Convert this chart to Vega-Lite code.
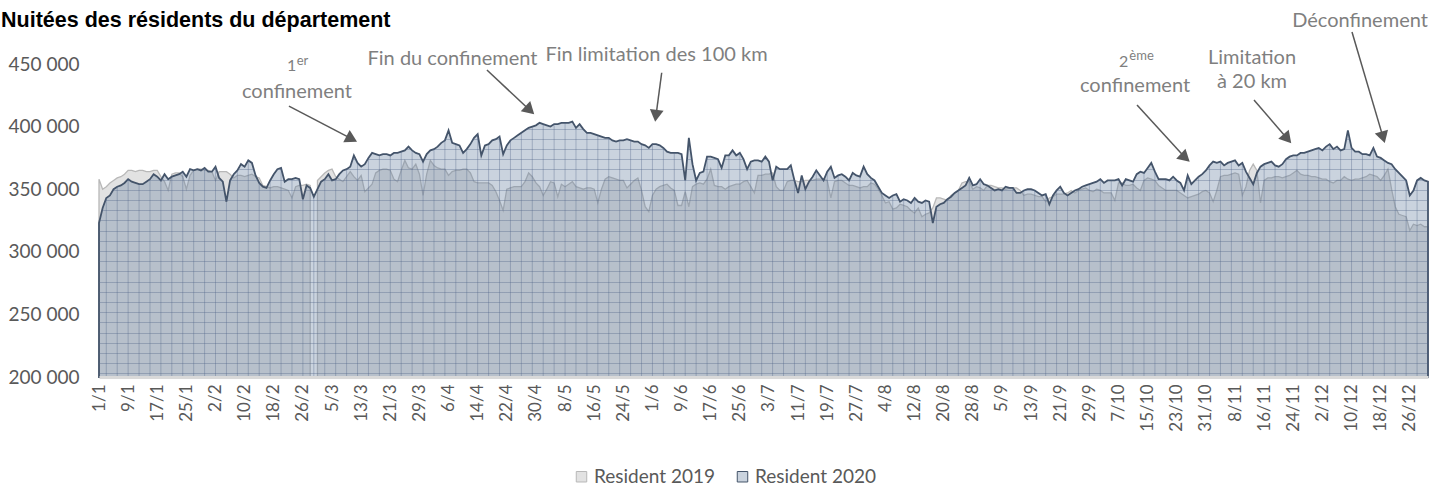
{
"$schema":"https://vega.github.io/schema/vega-lite/v6.json",
"width":1329,"height":313,
"autosize":{"type":"none"},
"padding":{"left":99,"top":64,"right":4,"bottom":111},
"background":"#ffffff",
"config":{"view":{"stroke":null},"font":"Lato"},
"title":{"text":"Nuitées des résidents du département","anchor":"start","frame":"group","font":"Liberation Sans","fontSize":21.5,"fontWeight":"bold","color":"#000000","dx":-98,"offset":-21},
"datasets":{
"days":[
{"date":"2020-01-01","y2019":358000,"y2020":323000},{"date":"2020-01-02","y2019":350000,"y2020":335000},{"date":"2020-01-03","y2019":352000,"y2020":343000},{"date":"2020-01-04","y2019":355000,"y2020":345000},{"date":"2020-01-05","y2019":357000,"y2020":350000},{"date":"2020-01-06","y2019":359000,"y2020":352000},{"date":"2020-01-07","y2019":360000,"y2020":353000},{"date":"2020-01-08","y2019":362000,"y2020":355000},{"date":"2020-01-09","y2019":365000,"y2020":358000},{"date":"2020-01-10","y2019":365000,"y2020":356000},{"date":"2020-01-11","y2019":364000,"y2020":355000},{"date":"2020-01-12","y2019":365000,"y2020":354000},{"date":"2020-01-13","y2019":365000,"y2020":354000},{"date":"2020-01-14","y2019":364000,"y2020":356000},{"date":"2020-01-15","y2019":364000,"y2020":358000},{"date":"2020-01-16","y2019":365000,"y2020":362000},{"date":"2020-01-17","y2019":365000,"y2020":360000},{"date":"2020-01-18","y2019":360000,"y2020":357000},{"date":"2020-01-19","y2019":356000,"y2020":362000},{"date":"2020-01-20","y2019":349000,"y2020":358000},{"date":"2020-01-21","y2019":362000,"y2020":360000},{"date":"2020-01-22","y2019":363000,"y2020":361000},{"date":"2020-01-23","y2019":363000,"y2020":362000},{"date":"2020-01-24","y2019":360000,"y2020":364000},{"date":"2020-01-25","y2019":350000,"y2020":360000},{"date":"2020-01-26","y2019":361000,"y2020":366000},{"date":"2020-01-27","y2019":365000,"y2020":365000},{"date":"2020-01-28","y2019":366000,"y2020":366000},{"date":"2020-01-29","y2019":366000,"y2020":365000},{"date":"2020-01-30","y2019":365000,"y2020":367000},{"date":"2020-01-31","y2019":365000,"y2020":364000},
{"date":"2020-02-01","y2019":364000,"y2020":364000},{"date":"2020-02-02","y2019":357000,"y2020":368000},{"date":"2020-02-03","y2019":364000,"y2020":359000},{"date":"2020-02-04","y2019":364000,"y2020":356000},{"date":"2020-02-05","y2019":364000,"y2020":340000},{"date":"2020-02-06","y2019":362000,"y2020":357000},{"date":"2020-02-07","y2019":359000,"y2020":362000},{"date":"2020-02-08","y2019":361000,"y2020":365000},{"date":"2020-02-09","y2019":361000,"y2020":370000},{"date":"2020-02-10","y2019":360000,"y2020":368000},{"date":"2020-02-11","y2019":361000,"y2020":373000},{"date":"2020-02-12","y2019":362000,"y2020":371000},{"date":"2020-02-13","y2019":360000,"y2020":361000},{"date":"2020-02-14","y2019":359000,"y2020":355000},{"date":"2020-02-15","y2019":353000,"y2020":352000},{"date":"2020-02-16","y2019":352000,"y2020":351000},{"date":"2020-02-17","y2019":351000,"y2020":357000},{"date":"2020-02-18","y2019":352000,"y2020":362000},{"date":"2020-02-19","y2019":352000,"y2020":366000},{"date":"2020-02-20","y2019":351000,"y2020":367000},{"date":"2020-02-21","y2019":350000,"y2020":356000},{"date":"2020-02-22","y2019":349000,"y2020":358000},{"date":"2020-02-23","y2019":343000,"y2020":358000},{"date":"2020-02-24","y2019":352000,"y2020":359000},{"date":"2020-02-25","y2019":353000,"y2020":358000},{"date":"2020-02-26","y2019":353000,"y2020":342000},{"date":"2020-02-27","y2019":354000,"y2020":353000},{"date":"2020-02-28","y2019":353000,"y2020":351000},{"date":"2020-02-29","y2019":null,"y2020":344000},
{"date":"2020-03-01","y2019":357000,"y2020":350000},{"date":"2020-03-02","y2019":360000,"y2020":356000},{"date":"2020-03-03","y2019":363000,"y2020":358000},{"date":"2020-03-04","y2019":365000,"y2020":362000},{"date":"2020-03-05","y2019":366000,"y2020":357000},{"date":"2020-03-06","y2019":360000,"y2020":358000},{"date":"2020-03-07","y2019":358000,"y2020":362000},{"date":"2020-03-08","y2019":356000,"y2020":365000},{"date":"2020-03-09","y2019":360000,"y2020":366000},{"date":"2020-03-10","y2019":364000,"y2020":368000},{"date":"2020-03-11","y2019":360000,"y2020":377000},{"date":"2020-03-12","y2019":357000,"y2020":371000},{"date":"2020-03-13","y2019":361000,"y2020":368000},{"date":"2020-03-14","y2019":348000,"y2020":370000},{"date":"2020-03-15","y2019":351000,"y2020":375000},{"date":"2020-03-16","y2019":354000,"y2020":379000},{"date":"2020-03-17","y2019":363000,"y2020":378000},{"date":"2020-03-18","y2019":365000,"y2020":377000},{"date":"2020-03-19","y2019":366000,"y2020":378000},{"date":"2020-03-20","y2019":366000,"y2020":378000},{"date":"2020-03-21","y2019":365000,"y2020":377000},{"date":"2020-03-22","y2019":358000,"y2020":379000},{"date":"2020-03-23","y2019":356000,"y2020":379000},{"date":"2020-03-24","y2019":365000,"y2020":380000},{"date":"2020-03-25","y2019":373000,"y2020":381000},{"date":"2020-03-26","y2019":367000,"y2020":384000},{"date":"2020-03-27","y2019":366000,"y2020":381000},{"date":"2020-03-28","y2019":370000,"y2020":379000},{"date":"2020-03-29","y2019":362000,"y2020":378000},{"date":"2020-03-30","y2019":345000,"y2020":372000},{"date":"2020-03-31","y2019":362000,"y2020":378000},
{"date":"2020-04-01","y2019":373000,"y2020":381000},{"date":"2020-04-02","y2019":369000,"y2020":382000},{"date":"2020-04-03","y2019":367000,"y2020":384000},{"date":"2020-04-04","y2019":366000,"y2020":387000},{"date":"2020-04-05","y2019":366000,"y2020":389000},{"date":"2020-04-06","y2019":361000,"y2020":397000},{"date":"2020-04-07","y2019":364000,"y2020":387000},{"date":"2020-04-08","y2019":365000,"y2020":386000},{"date":"2020-04-09","y2019":365000,"y2020":385000},{"date":"2020-04-10","y2019":366000,"y2020":379000},{"date":"2020-04-11","y2019":366000,"y2020":382000},{"date":"2020-04-12","y2019":363000,"y2020":386000},{"date":"2020-04-13","y2019":356000,"y2020":391000},{"date":"2020-04-14","y2019":355000,"y2020":394000},{"date":"2020-04-15","y2019":355000,"y2020":377000},{"date":"2020-04-16","y2019":355000,"y2020":385000},{"date":"2020-04-17","y2019":355000,"y2020":386000},{"date":"2020-04-18","y2019":353000,"y2020":389000},{"date":"2020-04-19","y2019":348000,"y2020":390000},{"date":"2020-04-20","y2019":341000,"y2020":392000},{"date":"2020-04-21","y2019":333000,"y2020":378000},{"date":"2020-04-22","y2019":350000,"y2020":385000},{"date":"2020-04-23","y2019":351000,"y2020":389000},{"date":"2020-04-24","y2019":352000,"y2020":391000},{"date":"2020-04-25","y2019":352000,"y2020":393000},{"date":"2020-04-26","y2019":352000,"y2020":395000},{"date":"2020-04-27","y2019":356000,"y2020":397000},{"date":"2020-04-28","y2019":363000,"y2020":399000},{"date":"2020-04-29","y2019":360000,"y2020":400000},{"date":"2020-04-30","y2019":355000,"y2020":401000},
{"date":"2020-05-01","y2019":352000,"y2020":403000},{"date":"2020-05-02","y2019":345000,"y2020":402000},{"date":"2020-05-03","y2019":350000,"y2020":401000},{"date":"2020-05-04","y2019":356000,"y2020":400000},{"date":"2020-05-05","y2019":355000,"y2020":402000},{"date":"2020-05-06","y2019":344000,"y2020":402000},{"date":"2020-05-07","y2019":354000,"y2020":403000},{"date":"2020-05-08","y2019":352000,"y2020":403000},{"date":"2020-05-09","y2019":354000,"y2020":403000},{"date":"2020-05-10","y2019":356000,"y2020":404000},{"date":"2020-05-11","y2019":352000,"y2020":399000},{"date":"2020-05-12","y2019":351000,"y2020":402000},{"date":"2020-05-13","y2019":350000,"y2020":398000},{"date":"2020-05-14","y2019":351000,"y2020":395000},{"date":"2020-05-15","y2019":351000,"y2020":395000},{"date":"2020-05-16","y2019":350000,"y2020":394000},{"date":"2020-05-17","y2019":339000,"y2020":393000},{"date":"2020-05-18","y2019":350000,"y2020":392000},{"date":"2020-05-19","y2019":358000,"y2020":391000},{"date":"2020-05-20","y2019":360000,"y2020":391000},{"date":"2020-05-21","y2019":359000,"y2020":389000},{"date":"2020-05-22","y2019":358000,"y2020":388000},{"date":"2020-05-23","y2019":357000,"y2020":389000},{"date":"2020-05-24","y2019":357000,"y2020":389000},{"date":"2020-05-25","y2019":351000,"y2020":390000},{"date":"2020-05-26","y2019":354000,"y2020":389000},{"date":"2020-05-27","y2019":357000,"y2020":388000},{"date":"2020-05-28","y2019":359000,"y2020":388000},{"date":"2020-05-29","y2019":349000,"y2020":386000},{"date":"2020-05-30","y2019":336000,"y2020":385000},{"date":"2020-05-31","y2019":332000,"y2020":383000},
{"date":"2020-06-01","y2019":345000,"y2020":386000},{"date":"2020-06-02","y2019":350000,"y2020":386000},{"date":"2020-06-03","y2019":352000,"y2020":385000},{"date":"2020-06-04","y2019":353000,"y2020":383000},{"date":"2020-06-05","y2019":354000,"y2020":380000},{"date":"2020-06-06","y2019":351000,"y2020":379000},{"date":"2020-06-07","y2019":349000,"y2020":379000},{"date":"2020-06-08","y2019":337000,"y2020":379000},{"date":"2020-06-09","y2019":337000,"y2020":378000},{"date":"2020-06-10","y2019":348000,"y2020":357000},{"date":"2020-06-11","y2019":336000,"y2020":391000},{"date":"2020-06-12","y2019":352000,"y2020":370000},{"date":"2020-06-13","y2019":354000,"y2020":357000},{"date":"2020-06-14","y2019":355000,"y2020":363000},{"date":"2020-06-15","y2019":354000,"y2020":364000},{"date":"2020-06-16","y2019":358000,"y2020":376000},{"date":"2020-06-17","y2019":366000,"y2020":376000},{"date":"2020-06-18","y2019":353000,"y2020":375000},{"date":"2020-06-19","y2019":352000,"y2020":374000},{"date":"2020-06-20","y2019":352000,"y2020":367000},{"date":"2020-06-21","y2019":350000,"y2020":377000},{"date":"2020-06-22","y2019":352000,"y2020":377000},{"date":"2020-06-23","y2019":353000,"y2020":381000},{"date":"2020-06-24","y2019":354000,"y2020":377000},{"date":"2020-06-25","y2019":354000,"y2020":379000},{"date":"2020-06-26","y2019":356000,"y2020":374000},{"date":"2020-06-27","y2019":357000,"y2020":366000},{"date":"2020-06-28","y2019":352000,"y2020":372000},{"date":"2020-06-29","y2019":347000,"y2020":373000},{"date":"2020-06-30","y2019":361000,"y2020":373000},
{"date":"2020-07-01","y2019":361000,"y2020":372000},{"date":"2020-07-02","y2019":362000,"y2020":376000},{"date":"2020-07-03","y2019":362000,"y2020":372000},{"date":"2020-07-04","y2019":363000,"y2020":357000},{"date":"2020-07-05","y2019":352000,"y2020":368000},{"date":"2020-07-06","y2019":349000,"y2020":366000},{"date":"2020-07-07","y2019":349000,"y2020":366000},{"date":"2020-07-08","y2019":356000,"y2020":366000},{"date":"2020-07-09","y2019":357000,"y2020":369000},{"date":"2020-07-10","y2019":357000,"y2020":357000},{"date":"2020-07-11","y2019":356000,"y2020":347000},{"date":"2020-07-12","y2019":356000,"y2020":361000},{"date":"2020-07-13","y2019":357000,"y2020":350000},{"date":"2020-07-14","y2019":357000,"y2020":356000},{"date":"2020-07-15","y2019":357000,"y2020":360000},{"date":"2020-07-16","y2019":358000,"y2020":365000},{"date":"2020-07-17","y2019":358000,"y2020":361000},{"date":"2020-07-18","y2019":358000,"y2020":357000},{"date":"2020-07-19","y2019":357000,"y2020":364000},{"date":"2020-07-20","y2019":343000,"y2020":368000},{"date":"2020-07-21","y2019":356000,"y2020":359000},{"date":"2020-07-22","y2019":357000,"y2020":361000},{"date":"2020-07-23","y2019":357000,"y2020":362000},{"date":"2020-07-24","y2019":355000,"y2020":360000},{"date":"2020-07-25","y2019":353000,"y2020":357000},{"date":"2020-07-26","y2019":353000,"y2020":363000},{"date":"2020-07-27","y2019":352000,"y2020":361000},{"date":"2020-07-28","y2019":351000,"y2020":360000},{"date":"2020-07-29","y2019":352000,"y2020":368000},{"date":"2020-07-30","y2019":352000,"y2020":362000},{"date":"2020-07-31","y2019":355000,"y2020":359000},
{"date":"2020-08-01","y2019":354000,"y2020":357000},{"date":"2020-08-02","y2019":350000,"y2020":352000},{"date":"2020-08-03","y2019":345000,"y2020":347000},{"date":"2020-08-04","y2019":339000,"y2020":345000},{"date":"2020-08-05","y2019":340000,"y2020":343000},{"date":"2020-08-06","y2019":334000,"y2020":345000},{"date":"2020-08-07","y2019":335000,"y2020":346000},{"date":"2020-08-08","y2019":338000,"y2020":340000},{"date":"2020-08-09","y2019":337000,"y2020":342000},{"date":"2020-08-10","y2019":336000,"y2020":341000},{"date":"2020-08-11","y2019":333000,"y2020":339000},{"date":"2020-08-12","y2019":331000,"y2020":343000},{"date":"2020-08-13","y2019":335000,"y2020":340000},{"date":"2020-08-14","y2019":328000,"y2020":339000},{"date":"2020-08-15","y2019":330000,"y2020":341000},{"date":"2020-08-16","y2019":331000,"y2020":340000},{"date":"2020-08-17","y2019":335000,"y2020":323000},{"date":"2020-08-18","y2019":343000,"y2020":336000},{"date":"2020-08-19","y2019":343000,"y2020":338000},{"date":"2020-08-20","y2019":342000,"y2020":339000},{"date":"2020-08-21","y2019":341000,"y2020":342000},{"date":"2020-08-22","y2019":345000,"y2020":344000},{"date":"2020-08-23","y2019":347000,"y2020":347000},{"date":"2020-08-24","y2019":349000,"y2020":349000},{"date":"2020-08-25","y2019":355000,"y2020":351000},{"date":"2020-08-26","y2019":356000,"y2020":353000},{"date":"2020-08-27","y2019":356000,"y2020":359000},{"date":"2020-08-28","y2019":350000,"y2020":353000},{"date":"2020-08-29","y2019":352000,"y2020":354000},{"date":"2020-08-30","y2019":351000,"y2020":358000},{"date":"2020-08-31","y2019":349000,"y2020":354000},
{"date":"2020-09-01","y2019":353000,"y2020":353000},{"date":"2020-09-02","y2019":353000,"y2020":351000},{"date":"2020-09-03","y2019":352000,"y2020":349000},{"date":"2020-09-04","y2019":351000,"y2020":350000},{"date":"2020-09-05","y2019":351000,"y2020":349000},{"date":"2020-09-06","y2019":350000,"y2020":352000},{"date":"2020-09-07","y2019":351000,"y2020":351000},{"date":"2020-09-08","y2019":351000,"y2020":351000},{"date":"2020-09-09","y2019":351000,"y2020":347000},{"date":"2020-09-10","y2019":349000,"y2020":347000},{"date":"2020-09-11","y2019":345000,"y2020":349000},{"date":"2020-09-12","y2019":346000,"y2020":350000},{"date":"2020-09-13","y2019":346000,"y2020":350000},{"date":"2020-09-14","y2019":345000,"y2020":349000},{"date":"2020-09-15","y2019":344000,"y2020":347000},{"date":"2020-09-16","y2019":344000,"y2020":345000},{"date":"2020-09-17","y2019":340000,"y2020":346000},{"date":"2020-09-18","y2019":343000,"y2020":338000},{"date":"2020-09-19","y2019":344000,"y2020":345000},{"date":"2020-09-20","y2019":346000,"y2020":349000},{"date":"2020-09-21","y2019":346000,"y2020":352000},{"date":"2020-09-22","y2019":346000,"y2020":347000},{"date":"2020-09-23","y2019":347000,"y2020":345000},{"date":"2020-09-24","y2019":349000,"y2020":347000},{"date":"2020-09-25","y2019":347000,"y2020":349000},{"date":"2020-09-26","y2019":349000,"y2020":350000},{"date":"2020-09-27","y2019":350000,"y2020":352000},{"date":"2020-09-28","y2019":351000,"y2020":353000},{"date":"2020-09-29","y2019":349000,"y2020":354000},{"date":"2020-09-30","y2019":348000,"y2020":355000},
{"date":"2020-10-01","y2019":350000,"y2020":356000},{"date":"2020-10-02","y2019":349000,"y2020":358000},{"date":"2020-10-03","y2019":347000,"y2020":355000},{"date":"2020-10-04","y2019":347000,"y2020":357000},{"date":"2020-10-05","y2019":347000,"y2020":357000},{"date":"2020-10-06","y2019":341000,"y2020":357000},{"date":"2020-10-07","y2019":355000,"y2020":358000},{"date":"2020-10-08","y2019":355000,"y2020":353000},{"date":"2020-10-09","y2019":353000,"y2020":358000},{"date":"2020-10-10","y2019":353000,"y2020":357000},{"date":"2020-10-11","y2019":354000,"y2020":356000},{"date":"2020-10-12","y2019":351000,"y2020":362000},{"date":"2020-10-13","y2019":349000,"y2020":364000},{"date":"2020-10-14","y2019":357000,"y2020":363000},{"date":"2020-10-15","y2019":359000,"y2020":367000},{"date":"2020-10-16","y2019":358000,"y2020":371000},{"date":"2020-10-17","y2019":357000,"y2020":364000},{"date":"2020-10-18","y2019":353000,"y2020":358000},{"date":"2020-10-19","y2019":351000,"y2020":358000},{"date":"2020-10-20","y2019":349000,"y2020":358000},{"date":"2020-10-21","y2019":349000,"y2020":357000},{"date":"2020-10-22","y2019":349000,"y2020":360000},{"date":"2020-10-23","y2019":349000,"y2020":357000},{"date":"2020-10-24","y2019":347000,"y2020":355000},{"date":"2020-10-25","y2019":345000,"y2020":349000},{"date":"2020-10-26","y2019":343000,"y2020":361000},{"date":"2020-10-27","y2019":344000,"y2020":354000},{"date":"2020-10-28","y2019":345000,"y2020":357000},{"date":"2020-10-29","y2019":346000,"y2020":360000},{"date":"2020-10-30","y2019":348000,"y2020":362000},{"date":"2020-10-31","y2019":349000,"y2020":365000},
{"date":"2020-11-01","y2019":347000,"y2020":369000},{"date":"2020-11-02","y2019":340000,"y2020":372000},{"date":"2020-11-03","y2019":349000,"y2020":371000},{"date":"2020-11-04","y2019":360000,"y2020":372000},{"date":"2020-11-05","y2019":361000,"y2020":369000},{"date":"2020-11-06","y2019":361000,"y2020":371000},{"date":"2020-11-07","y2019":362000,"y2020":372000},{"date":"2020-11-08","y2019":363000,"y2020":373000},{"date":"2020-11-09","y2019":362000,"y2020":369000},{"date":"2020-11-10","y2019":345000,"y2020":371000},{"date":"2020-11-11","y2019":352000,"y2020":364000},{"date":"2020-11-12","y2019":365000,"y2020":359000},{"date":"2020-11-13","y2019":370000,"y2020":354000},{"date":"2020-11-14","y2019":365000,"y2020":363000},{"date":"2020-11-15","y2019":339000,"y2020":368000},{"date":"2020-11-16","y2019":357000,"y2020":370000},{"date":"2020-11-17","y2019":359000,"y2020":371000},{"date":"2020-11-18","y2019":359000,"y2020":372000},{"date":"2020-11-19","y2019":360000,"y2020":369000},{"date":"2020-11-20","y2019":360000,"y2020":368000},{"date":"2020-11-21","y2019":359000,"y2020":370000},{"date":"2020-11-22","y2019":360000,"y2020":374000},{"date":"2020-11-23","y2019":361000,"y2020":376000},{"date":"2020-11-24","y2019":363000,"y2020":377000},{"date":"2020-11-25","y2019":365000,"y2020":377000},{"date":"2020-11-26","y2019":362000,"y2020":379000},{"date":"2020-11-27","y2019":361000,"y2020":379000},{"date":"2020-11-28","y2019":361000,"y2020":380000},{"date":"2020-11-29","y2019":360000,"y2020":381000},{"date":"2020-11-30","y2019":360000,"y2020":382000},
{"date":"2020-12-01","y2019":359000,"y2020":383000},{"date":"2020-12-02","y2019":358000,"y2020":381000},{"date":"2020-12-03","y2019":358000,"y2020":384000},{"date":"2020-12-04","y2019":356000,"y2020":386000},{"date":"2020-12-05","y2019":355000,"y2020":382000},{"date":"2020-12-06","y2019":357000,"y2020":384000},{"date":"2020-12-07","y2019":357000,"y2020":381000},{"date":"2020-12-08","y2019":360000,"y2020":382000},{"date":"2020-12-09","y2019":358000,"y2020":397000},{"date":"2020-12-10","y2019":357000,"y2020":383000},{"date":"2020-12-11","y2019":358000,"y2020":380000},{"date":"2020-12-12","y2019":358000,"y2020":380000},{"date":"2020-12-13","y2019":359000,"y2020":378000},{"date":"2020-12-14","y2019":360000,"y2020":378000},{"date":"2020-12-15","y2019":362000,"y2020":377000},{"date":"2020-12-16","y2019":361000,"y2020":383000},{"date":"2020-12-17","y2019":360000,"y2020":376000},{"date":"2020-12-18","y2019":357000,"y2020":375000},{"date":"2020-12-19","y2019":361000,"y2020":373000},{"date":"2020-12-20","y2019":366000,"y2020":371000},{"date":"2020-12-21","y2019":350000,"y2020":370000},{"date":"2020-12-22","y2019":336000,"y2020":366000},{"date":"2020-12-23","y2019":330000,"y2020":363000},{"date":"2020-12-24","y2019":329000,"y2020":360000},{"date":"2020-12-25","y2019":328000,"y2020":357000},{"date":"2020-12-26","y2019":317000,"y2020":345000},{"date":"2020-12-27","y2019":322000,"y2020":349000},{"date":"2020-12-28","y2019":321000,"y2020":357000},{"date":"2020-12-29","y2019":322000,"y2020":359000},{"date":"2020-12-30","y2019":320000,"y2020":357000},{"date":"2020-12-31","y2019":320000,"y2020":356000}
],
"arrows":[
{"id":"a1","date":"2020-02-22T04:00:00Z","value":416400,"date2":"2020-03-10T10:00:00Z","value2":390200},
{"id":"a2","date":"2020-04-16T13:00:00Z","value":445200,"date2":"2020-04-28T08:00:00Z","value2":413100},
{"id":"a3","date":"2020-06-03T13:00:00Z","value":443000,"date2":"2020-06-01T23:00:00Z","value2":408600},
{"id":"a4","date":"2020-10-12T02:00:00Z","value":417200,"date2":"2020-10-25T08:00:00Z","value2":375100},
{"id":"a5","date":"2020-11-13T05:00:00Z","value":421200,"date2":"2020-11-22T09:00:00Z","value2":390300},
{"id":"a6","date":"2020-12-10T03:00:00Z","value":475600,"date2":"2020-12-18T16:00:00Z","value2":391400}
],
"notes":[
{"text":"confinement","date":"2020-02-24T09:00:00Z","value":423100},
{"text":"Fin du confinement","date":"2020-04-07T02:00:00Z","value":449200},
{"text":"Fin limitation des 100 km","date":"2020-06-02T03:00:00Z","value":452600},
{"text":"confinement","date":"2020-10-11T13:00:00Z","value":427900},
{"text":"Limitation","date":"2020-11-12T16:00:00Z","value":450000},
{"text":"à 20 km","date":"2020-11-12T16:00:00Z","value":430600},
{"text":"Déconfinement","date":"2020-12-12T08:00:00Z","value":479800}
],
"ordinals":[
{"text":"1","date":"2020-02-22T22:00:00Z","value":444600},
{"text":"2","date":"2020-10-08T10:00:00Z","value":447800}
],
"sups":[
{"text":"er","date":"2020-02-25T21:00:00Z","value":449600},
{"text":"ème","date":"2020-10-13T08:00:00Z","value":453200}
]
},
"encoding":{
"x":{"field":"date","type":"temporal","scale":{"type":"utc","domain":[1577836800000,1609372800000],"nice":false},
"axis":{"values":[1577836800000,1578528000000,1579219200000,1579910400000,1580601600000,1581292800000,1581984000000,1582675200000,1583366400000,1584057600000,1584748800000,1585440000000,1586131200000,1586822400000,1587513600000,1588204800000,1588896000000,1589587200000,1590278400000,1590969600000,1591660800000,1592352000000,1593043200000,1593734400000,1594425600000,1595116800000,1595808000000,1596499200000,1597190400000,1597881600000,1598572800000,1599264000000,1599955200000,1600646400000,1601337600000,1602028800000,1602720000000,1603411200000,1604102400000,1604793600000,1605484800000,1606176000000,1606867200000,1607558400000,1608249600000,1608940800000],
"format":"%-d/%-m","labelAngle":-90,"labelOverlap":false,"labelFlush":false,"labelFont":"Lato","labelFontSize":17,"labelColor":"#595959","labelPadding":7,"ticks":false,"grid":false,"domainColor":"#d9d9d9","domainWidth":2.8,"zindex":1,"title":null}},
"y":{"field":"value","type":"quantitative","scale":{"domain":[200000,450000],"nice":false,"zero":false},
"axis":{"values":[200000,250000,300000,350000,400000,450000],"labelExpr":"replace(format(datum.value, ',d'), ',', ' ')","labelFont":"Lato","labelFontSize":19,"labelColor":"#595959","labelPadding":20,"ticks":false,"grid":false,"domain":false,"title":null}}
},
"layer":[
{"data":{"name":"days"},
"transform":[{"fold":["y2019","y2020"],"as":["series","value"]},{"filter":"datum.series == 'y2019'"}],
"mark":{"type":"area","strokeWidth":1.3,"invalid":"break-paths-filter-domains"},
"encoding":{"y2":{"datum":200000},
"fill":{"field":"series","type":"nominal","scale":{"domain":["y2019","y2020"],"range":["#e2e2e2","rgba(109,132,164,0.36)"]},
"legend":{"orient":"none","legendX":473,"legendY":403,"direction":"horizontal","title":null,"padding":0,"symbolType":"square","symbolSize":110,"symbolStrokeWidth":1,"labelFont":"Lato","labelFontSize":19,"labelColor":"#595959","labelOffset":3,"columnPadding":17,"labelExpr":"datum.label == 'y2019' ? 'Resident 2019' : 'Resident 2020'"}},
"stroke":{"field":"series","type":"nominal","scale":{"domain":["y2019","y2020"],"range":["#b8b8b8","#44546a"]}}}},
{"data":{"name":"days"},
"transform":[{"fold":["y2019","y2020"],"as":["series","value"]},{"filter":"datum.series == 'y2020'"}],
"mark":{"type":"area","strokeWidth":1.8},
"encoding":{"y2":{"datum":200000},
"fill":{"field":"series","type":"nominal"},
"stroke":{"field":"series","type":"nominal"}}},
{"data":{"name":"days"},
"transform":[{"fold":["y2019","y2020"],"as":["series","value"]},{"filter":"datum.series == 'y2020'"}],
"mark":{"type":"area","stroke":null,"fill":{"gradient":"linear","x1":0,"y1":0,"x2":0,"y2":1,"stops":[
{"offset":0,"color":"rgba(80,100,135,0)"},
{"offset":0.02900,"color":"rgba(80,100,135,0)"},{"offset":0.02900,"color":"rgba(80,100,135,0.36)"},{"offset":0.03292,"color":"rgba(80,100,135,0.36)"},{"offset":0.03292,"color":"rgba(80,100,135,0)"},
{"offset":0.06816,"color":"rgba(80,100,135,0)"},{"offset":0.06816,"color":"rgba(80,100,135,0.36)"},{"offset":0.07207,"color":"rgba(80,100,135,0.36)"},{"offset":0.07207,"color":"rgba(80,100,135,0)"},
{"offset":0.10731,"color":"rgba(80,100,135,0)"},{"offset":0.10731,"color":"rgba(80,100,135,0.36)"},{"offset":0.11122,"color":"rgba(80,100,135,0.36)"},{"offset":0.11122,"color":"rgba(80,100,135,0)"},
{"offset":0.14646,"color":"rgba(80,100,135,0)"},{"offset":0.14646,"color":"rgba(80,100,135,0.36)"},{"offset":0.15038,"color":"rgba(80,100,135,0.36)"},{"offset":0.15038,"color":"rgba(80,100,135,0)"},
{"offset":0.18562,"color":"rgba(80,100,135,0)"},{"offset":0.18562,"color":"rgba(80,100,135,0.36)"},{"offset":0.18953,"color":"rgba(80,100,135,0.36)"},{"offset":0.18953,"color":"rgba(80,100,135,0)"},
{"offset":0.22869,"color":"rgba(80,100,135,0)"},{"offset":0.22869,"color":"rgba(80,100,135,0.36)"},{"offset":0.23260,"color":"rgba(80,100,135,0.36)"},{"offset":0.23260,"color":"rgba(80,100,135,0)"},
{"offset":0.26784,"color":"rgba(80,100,135,0)"},{"offset":0.26784,"color":"rgba(80,100,135,0.36)"},{"offset":0.27175,"color":"rgba(80,100,135,0.36)"},{"offset":0.27175,"color":"rgba(80,100,135,0)"},
{"offset":0.30699,"color":"rgba(80,100,135,0)"},{"offset":0.30699,"color":"rgba(80,100,135,0.36)"},{"offset":0.31091,"color":"rgba(80,100,135,0.36)"},{"offset":0.31091,"color":"rgba(80,100,135,0)"},
{"offset":0.34615,"color":"rgba(80,100,135,0)"},{"offset":0.34615,"color":"rgba(80,100,135,0.36)"},{"offset":0.35006,"color":"rgba(80,100,135,0.36)"},{"offset":0.35006,"color":"rgba(80,100,135,0)"},
{"offset":0.38530,"color":"rgba(80,100,135,0)"},{"offset":0.38530,"color":"rgba(80,100,135,0.36)"},{"offset":0.38921,"color":"rgba(80,100,135,0.36)"},{"offset":0.38921,"color":"rgba(80,100,135,0)"},
{"offset":0.42837,"color":"rgba(80,100,135,0)"},{"offset":0.42837,"color":"rgba(80,100,135,0.36)"},{"offset":0.43228,"color":"rgba(80,100,135,0.36)"},{"offset":0.43228,"color":"rgba(80,100,135,0)"},
{"offset":0.46752,"color":"rgba(80,100,135,0)"},{"offset":0.46752,"color":"rgba(80,100,135,0.36)"},{"offset":0.47144,"color":"rgba(80,100,135,0.36)"},{"offset":0.47144,"color":"rgba(80,100,135,0)"},
{"offset":0.50667,"color":"rgba(80,100,135,0)"},{"offset":0.50667,"color":"rgba(80,100,135,0.36)"},{"offset":0.51059,"color":"rgba(80,100,135,0.36)"},{"offset":0.51059,"color":"rgba(80,100,135,0)"},
{"offset":0.54582,"color":"rgba(80,100,135,0)"},{"offset":0.54582,"color":"rgba(80,100,135,0.36)"},{"offset":0.54974,"color":"rgba(80,100,135,0.36)"},{"offset":0.54974,"color":"rgba(80,100,135,0)"},
{"offset":0.58498,"color":"rgba(80,100,135,0)"},{"offset":0.58498,"color":"rgba(80,100,135,0.36)"},{"offset":0.58889,"color":"rgba(80,100,135,0.36)"},{"offset":0.58889,"color":"rgba(80,100,135,0)"},
{"offset":0.62805,"color":"rgba(80,100,135,0)"},{"offset":0.62805,"color":"rgba(80,100,135,0.36)"},{"offset":0.63196,"color":"rgba(80,100,135,0.36)"},{"offset":0.63196,"color":"rgba(80,100,135,0)"},
{"offset":0.66720,"color":"rgba(80,100,135,0)"},{"offset":0.66720,"color":"rgba(80,100,135,0.36)"},{"offset":0.67111,"color":"rgba(80,100,135,0.36)"},{"offset":0.67111,"color":"rgba(80,100,135,0)"},
{"offset":0.70635,"color":"rgba(80,100,135,0)"},{"offset":0.70635,"color":"rgba(80,100,135,0.36)"},{"offset":0.71027,"color":"rgba(80,100,135,0.36)"},{"offset":0.71027,"color":"rgba(80,100,135,0)"},
{"offset":0.74551,"color":"rgba(80,100,135,0)"},{"offset":0.74551,"color":"rgba(80,100,135,0.36)"},{"offset":0.74942,"color":"rgba(80,100,135,0.36)"},{"offset":0.74942,"color":"rgba(80,100,135,0)"},
{"offset":0.78466,"color":"rgba(80,100,135,0)"},{"offset":0.78466,"color":"rgba(80,100,135,0.36)"},{"offset":0.78857,"color":"rgba(80,100,135,0.36)"},{"offset":0.78857,"color":"rgba(80,100,135,0)"},
{"offset":0.82773,"color":"rgba(80,100,135,0)"},{"offset":0.82773,"color":"rgba(80,100,135,0.36)"},{"offset":0.83164,"color":"rgba(80,100,135,0.36)"},{"offset":0.83164,"color":"rgba(80,100,135,0)"},
{"offset":0.86688,"color":"rgba(80,100,135,0)"},{"offset":0.86688,"color":"rgba(80,100,135,0.36)"},{"offset":0.87080,"color":"rgba(80,100,135,0.36)"},{"offset":0.87080,"color":"rgba(80,100,135,0)"},
{"offset":0.90604,"color":"rgba(80,100,135,0)"},{"offset":0.90604,"color":"rgba(80,100,135,0.36)"},{"offset":0.90995,"color":"rgba(80,100,135,0.36)"},{"offset":0.90995,"color":"rgba(80,100,135,0)"},
{"offset":0.94519,"color":"rgba(80,100,135,0)"},{"offset":0.94519,"color":"rgba(80,100,135,0.36)"},{"offset":0.94910,"color":"rgba(80,100,135,0.36)"},{"offset":0.94910,"color":"rgba(80,100,135,0)"},
{"offset":0.98434,"color":"rgba(80,100,135,0)"},{"offset":0.98434,"color":"rgba(80,100,135,0.36)"},{"offset":0.98826,"color":"rgba(80,100,135,0.36)"},{"offset":0.98826,"color":"rgba(80,100,135,0)"},
{"offset":1,"color":"rgba(80,100,135,0)"}]}},
"encoding":{"y2":{"datum":200000}}},
{"data":{"name":"days"},
"transform":[{"fold":["y2019","y2020"],"as":["series","value"]},{"filter":"datum.series == 'y2020' && utcdayofyear(toDate(datum.date)) % 3 == 0"}],
"mark":{"type":"rule","color":"rgba(80,100,135,0.36)","strokeWidth":1},
"encoding":{"y2":{"datum":200000}}},
{"data":{"name":"arrows"},
"mark":{"type":"rule","color":"#595959","strokeWidth":1.5},
"encoding":{"x2":{"field":"date2"},"y2":{"field":"value2"}}},
{"data":{"name":"arrows"},"transform":[{"filter":"datum.id == 'a1'"}],
"mark":{"type":"point","shape":"triangle-up","filled":true,"color":"#595959","opacity":1,"size":190,"angle":117.6},
"encoding":{"x":{"field":"date2","type":"temporal"},"y":{"field":"value2","type":"quantitative"}}},
{"data":{"name":"arrows"},"transform":[{"filter":"datum.id == 'a2'"}],
"mark":{"type":"point","shape":"triangle-up","filled":true,"color":"#595959","opacity":1,"size":190,"angle":133.2},
"encoding":{"x":{"field":"date2","type":"temporal"},"y":{"field":"value2","type":"quantitative"}}},
{"data":{"name":"arrows"},"transform":[{"filter":"datum.id == 'a3'"}],
"mark":{"type":"point","shape":"triangle-up","filled":true,"color":"#595959","opacity":1,"size":190,"angle":187.6},
"encoding":{"x":{"field":"date2","type":"temporal"},"y":{"field":"value2","type":"quantitative"}}},
{"data":{"name":"arrows"},"transform":[{"filter":"datum.id == 'a4'"}],
"mark":{"type":"point","shape":"triangle-up","filled":true,"color":"#595959","opacity":1,"size":190,"angle":132.4},
"encoding":{"x":{"field":"date2","type":"temporal"},"y":{"field":"value2","type":"quantitative"}}},
{"data":{"name":"arrows"},"transform":[{"filter":"datum.id == 'a5'"}],
"mark":{"type":"point","shape":"triangle-up","filled":true,"color":"#595959","opacity":1,"size":190,"angle":139.2},
"encoding":{"x":{"field":"date2","type":"temporal"},"y":{"field":"value2","type":"quantitative"}}},
{"data":{"name":"arrows"},"transform":[{"filter":"datum.id == 'a6'"}],
"mark":{"type":"point","shape":"triangle-up","filled":true,"color":"#595959","opacity":1,"size":190,"angle":163.5},
"encoding":{"x":{"field":"date2","type":"temporal"},"y":{"field":"value2","type":"quantitative"}}},
{"data":{"name":"notes"},
"mark":{"type":"text","font":"Lato","fontSize":20,"color":"#7f7f7f","align":"center","baseline":"alphabetic"},
"encoding":{"text":{"field":"text"}}},
{"data":{"name":"ordinals"},
"mark":{"type":"text","font":"Lato","fontSize":16,"color":"#7f7f7f","align":"center","baseline":"alphabetic"},
"encoding":{"text":{"field":"text"}}},
{"data":{"name":"sups"},
"mark":{"type":"text","font":"Lato","fontSize":13,"color":"#7f7f7f","align":"center","baseline":"alphabetic"},
"encoding":{"text":{"field":"text"}}}
]
}
